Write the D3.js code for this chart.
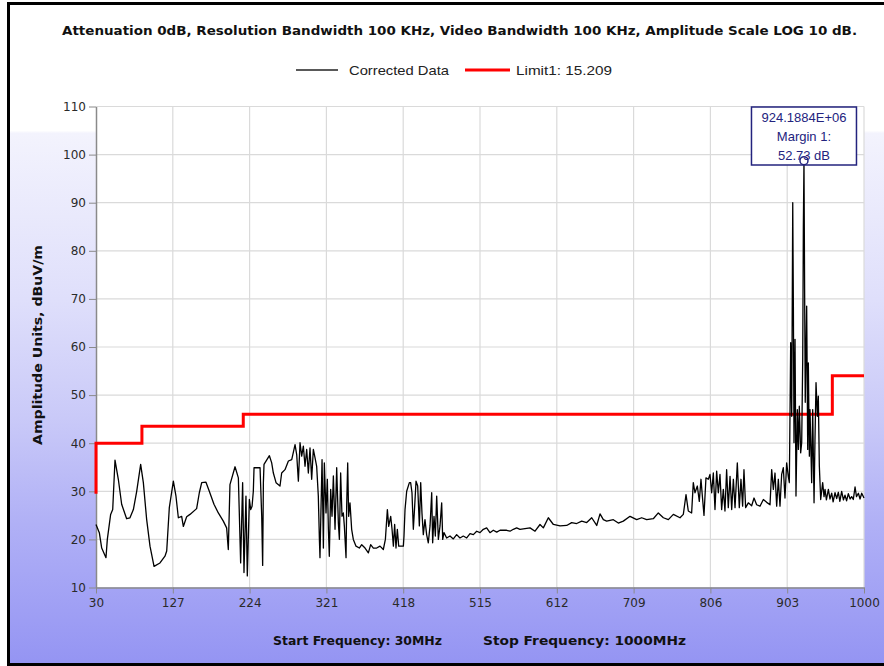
<!DOCTYPE html>
<html>
<head>
<meta charset="utf-8">
<script src="https://cdn.jsdelivr.net/npm/d3@7"></script>
<style>
body { margin: 0; background: #fff; }
</style>
</head>
<body>
<div class="chart"></div>
<script>
// corrected data trace, MHz / dBuV/m
const freqs = [
  30, 34.2, 37.2, 42.6, 44.3, 48.5, 51.1, 54.0, 58.2, 62.4, 68.7, 72.9, 77.2, 81.4, 86.4, 89.8, 94.0, 98.2, 103.3, 110.8,
  117.1, 119.3, 122.6, 127.7, 131.0, 134.0, 138.2, 140.3, 144.5, 148.7, 157.1, 160.5, 163.5, 168.9, 173.1, 179.0, 184.5, 190.8, 195.0, 197.1,
  199.2, 205.6, 209.8, 212.7, 215.2, 216.9, 219.4, 221.1,
  223.7, 225.4, 227.1, 228.7, 229.6, 237.2, 239.3, 240.5, 241.4, 242.2, 249.0, 251.9, 254.0, 257.4, 262.4, 264.5, 268.7, 273.0, 277.2, 281.4,
  283.5, 285.6, 287.7, 289.8, 291.9, 294.0, 296.1, 298.2, 300.3, 302.4, 304.5, 306.6, 308.7, 310.8, 312.1, 312.9, 314.2, 315.5, 317.2, 318.4,
  320.5, 322.2, 323.5, 324.7, 326.4, 328.1, 329.8, 331.9, 334.0, 336.1, 337.4, 339.0, 340.7, 342.4, 343.7, 345.8, 346.6, 347.9, 349.1, 350.8,
  352.9, 355.0, 358.4, 362.6, 365.6, 369.8, 374.0, 376.9, 380.3, 384.5, 388.7, 392.9, 395.5, 398.0, 399.7, 402.2, 403.9, 405.6, 407.2, 408.9,
  410.6, 412.3, 418.2, 419.0, 420.3, 422.4, 425.8,
  427.4, 429.1, 430.8, 432.5, 434.2, 436.3, 438.4, 440.1, 441.7, 443.4, 445.5, 447.6, 449.7, 451.9, 454.0, 455.2, 456.9, 458.6, 460.3, 462.4,
  464.5, 466.6, 467.9, 469.5, 472.9, 477.1, 481.3, 485.5, 489.7, 493.9, 498.2, 502.4, 506.6, 510.8, 515.0, 519.2, 523.4, 527.6, 531.8, 536.1,
  540.3, 544.5, 548.7, 552.9, 557.1, 561.3, 565.5,
  578.2, 584.5, 590.8, 595.0, 601.3, 607.7, 616.1, 624.5, 630.8, 637.1, 643.5, 649.8, 656.1, 662.4, 666.6,
  670.8, 675.0, 683.4, 689.7, 696.0, 704.5, 712.9, 719.2, 725.5, 733.9, 740.2, 746.6, 752.9, 759.2, 767.6, 771.8, 775.2, 778.1, 782.3, 784.4,
  786.5, 789.5, 792.0, 794.1, 796.2, 797.9, 800.4, 803.4, 805.5, 807.6, 809.7, 811.8, 813.9, 816.0, 818.1, 820.2, 822.3, 824.4, 826.5, 828.6,
  830.8, 832.9, 835.0, 837.1, 840.0, 842.5, 844.6, 846.7, 848.4, 850.5, 853.9, 858.1, 861.1, 864.4, 868.6, 872.9, 877.1, 881.3, 883.4, 885.5,
  887.6, 889.7, 891.8, 893.9, 896.0, 898.1, 900.2, 902.3, 904.4,
  905.7, 907.4, 908.7, 910.0, 910.8, 911.6, 912.9, 914.1, 915.8, 917.1, 918.3, 920.0, 921.3, 922.6, 923.4, 924.19, 925.0, 925.8, 927.6, 928.9,
  929.7, 931.0, 931.8, 933.9, 935.2, 936.9, 938.1, 939.4, 941.1, 942.3, 943.6, 945.3, 947.8, 949.5, 950.8, 952.5, 955.0, 957.0, 959.2, 961.0,
  963.4, 965.5, 967.6, 969.5, 971.8, 974.0, 976.0, 978.0, 980.2, 982.5, 984.4, 986.5, 988.7, 990.5, 992.9, 995.0, 997.1, 1000
];
const levels = [
  23.1, 21.4, 18.2, 16.2, 20.0, 25.2, 26.2, 36.5, 32.5, 27.3, 24.3, 24.5, 26.2, 30.0, 35.6, 31.8, 24.1, 18.6, 14.4, 15.1,
  16.5, 17.6, 26.6, 32.1, 29.0, 24.5, 24.8, 22.7, 24.7, 25.2, 26.4, 29.7, 31.8, 31.9, 30.0, 27.3, 25.5, 23.8, 22.4, 17.9,
  31.4, 35.1, 32.8, 15.1, 31.8, 13.1, 29.0, 12.4,
  28.3, 26.2, 26.9, 30.0, 34.9, 34.9, 24.8, 14.6, 31.8, 35.6, 37.4, 35.9, 33.8, 31.8, 31.1, 33.8, 34.5, 36.3, 36.6, 39.7,
  37.6, 32.1, 40.1, 37.3, 39.4, 35.2, 38.7, 33.8, 39.0, 32.5, 38.7, 37.0, 35.2, 29.0, 20.3, 16.2, 26.6, 36.6, 18.2, 35.9,
  25.5, 32.5, 22.1, 16.5, 30.4, 24.8, 33.2, 22.1, 34.9, 23.4, 20.0, 33.8, 24.8, 25.5, 22.7, 16.2, 26.9, 35.9, 24.8, 27.6,
  22.1, 20.0, 18.6, 18.2, 18.9, 18.2, 17.2, 18.9, 18.2, 18.2, 18.6, 17.9, 20.0, 26.2, 22.7, 24.8, 22.1, 18.6, 23.1, 18.2,
  22.1, 18.6, 18.6, 20.7, 26.2, 30.0, 31.8,
  31.8, 29.7, 22.1, 26.9, 32.1, 31.1, 22.8, 31.8, 25.5, 21.0, 24.1, 21.0, 19.3, 22.8, 29.7, 19.3, 24.8, 20.7, 29.0, 20.0,
  22.8, 27.6, 20.0, 21.4, 20.3, 20.7, 20.1, 21.0, 20.3, 20.7, 20.3, 21.2, 21.0, 21.7, 21.4, 22.1, 22.4, 21.4, 21.9, 21.5,
  21.9, 21.9, 21.9, 21.7, 22.1, 22.4, 22.1,
  22.4, 21.7, 23.1, 22.4, 24.5, 23.1, 22.8, 22.9, 23.5, 23.3, 23.8, 23.5, 24.5, 22.9, 25.3,
  24.1, 23.8, 24.1, 23.4, 23.8, 24.8, 24.1, 24.5, 24.1, 24.3, 25.5, 24.5, 24.1, 25.2, 24.5, 25.2, 29.3, 25.9, 25.5, 31.8,
  29.7, 31.1, 27.9, 32.5, 28.3, 25.0, 32.8, 32.5, 33.5, 29.7, 33.8, 26.2, 34.2, 29.7, 33.5, 26.2, 30.4, 25.9, 34.5, 26.6,
  33.1, 26.2, 32.5, 26.6, 35.9, 26.6, 32.5, 26.9, 34.5, 26.6, 27.6, 27.0, 28.6, 27.2, 26.9, 28.3, 27.7, 27.2, 34.5, 30.4,
  33.8, 26.9, 32.5, 26.9, 33.5, 34.9, 28.6, 35.9, 33.1,
  31.8, 60.9, 45.6, 90.0, 68.5, 40.1, 61.6, 29.0, 47.0, 38.7, 47.7, 38.0, 40.1, 57.4, 85.1, 98.73, 72.0, 48.5, 68.5, 38.7,
  56.7, 37.3, 47.0, 31.8, 47.0, 27.6, 40.8, 52.6, 45.6, 49.8, 35.2, 28.3, 31.8, 28.9, 30.4, 28.2, 30.4, 28.4, 29.6, 27.8,
  29.7, 28.5, 29.8, 27.9, 30.0, 28.2, 29.2, 28.0, 29.5, 28.4, 28.9, 28.3, 30.9, 28.9, 29.6, 28.4, 29.6, 28.6
];

// FCC 15.209 limit steps
const limitFreqs = [30, 30, 88, 88, 216, 216, 960, 960, 1000];
const limitLevels = [29.5, 40, 40, 43.5, 43.5, 46, 46, 54, 54];

const xTicks = [30, 127, 224, 321, 418, 515, 612, 709, 806, 903, 1000];
const yTicks = [10, 20, 30, 40, 50, 60, 70, 80, 90, 100, 110];

const peakFreq = 924.1884;
const peakLevel = 98.73;
const peakMargin = 52.73;

const titleText = "Attenuation 0dB, Resolution Bandwidth 100 KHz, Video Bandwidth 100 KHz, Amplitude Scale LOG 10 dB.";
const yLabel = "Amplitude Units, dBuV/m";
const startLabel = "Start Frequency: 30MHz";
const stopLabel = "Stop Frequency: 1000MHz";
const seriesNames = ["Corrected Data", "Limit1: 15.209"];

const w = 884;
const h = 666;
const plot = { left: 96, right: 864, top: 106.5, bottom: 587.5 };
const boldFont = "'DejaVu Sans', Verdana, sans-serif";
const plainFont = "'Liberation Sans', Arial, sans-serif";

let svg = d3.select(".chart").append("svg")
  .attr("width", w)
  .attr("height", h);

let xScale = d3.scaleLinear().domain([30, 1000]).range([plot.left, plot.right]);
let yScale = d3.scaleLinear().domain([10, 110]).range([plot.bottom, plot.top]);

let drawBackground = () => {
  let defs = svg.append("defs");
  let grad = defs.append("linearGradient")
    .attr("id", "panelGrad")
    .attr("gradientUnits", "userSpaceOnUse")
    .attr("x1", 0).attr("y1", 0).attr("x2", 0).attr("y2", h);
  [[0, "#ffffff"], [0.196, "#ffffff"], [0.2, "#f3f3fd"], [0.45, "#dfdffb"],
   [0.63, "#c9c9f8"], [0.78, "#b1b1f6"], [1, "#9494f3"]]
    .forEach(s => grad.append("stop").attr("offset", s[0]).attr("stop-color", s[1]));

  svg.append("rect").attr("width", w).attr("height", h).attr("fill", "#fff");
  svg.append("rect")
    .attr("x", 8.5).attr("y", 3.5)
    .attr("width", w + 10).attr("height", 661)
    .attr("fill", "url(#panelGrad)")
    .attr("stroke", "#000")
    .attr("stroke-width", 3);

  svg.append("rect")
    .attr("x", plot.left).attr("y", plot.top)
    .attr("width", plot.right - plot.left).attr("height", plot.bottom - plot.top)
    .attr("fill", "#fff");
};

let drawGrid = () => {
  let g = svg.append("g").attr("stroke", "#dadada").attr("stroke-width", 1.2);
  g.selectAll(".vgrid").data(xTicks.slice(1)).enter().append("line")
    .attr("x1", d => xScale(d)).attr("x2", d => xScale(d))
    .attr("y1", plot.top).attr("y2", plot.bottom);
  g.selectAll(".hgrid").data(yTicks.slice(1)).enter().append("line")
    .attr("x1", plot.left).attr("x2", plot.right)
    .attr("y1", d => yScale(d)).attr("y2", d => yScale(d));
};

let drawAxes = () => {
  const yAxis = d3.axisLeft(yScale).tickValues(yTicks).tickSize(7).tickSizeOuter(0).tickPadding(3)
    .tickFormat(d3.format("d"));
  let ya = svg.append("g").attr("transform", "translate(" + plot.left + ",0)").call(yAxis);
  const xAxis = d3.axisBottom(xScale).tickValues(xTicks).tickSize(6).tickSizeOuter(0).tickPadding(5)
    .tickFormat(d3.format("d"));
  let xa = svg.append("g").attr("transform", "translate(0," + plot.bottom + ")").call(xAxis);
  [ya, xa].forEach(a => {
    a.select(".domain").attr("stroke", "#8a8a8a").attr("stroke-width", 1.5);
    a.selectAll(".tick line").attr("stroke", "#8a8a8a");
    a.selectAll("text").attr("fill", "#2a2a2a").attr("font-family", boldFont).attr("font-size", 12);
  });
};

let drawSeries = () => {
  let line = d3.line().x(d => xScale(d[0])).y(d => yScale(d[1]));
  svg.append("path")
    .datum(d3.zip(limitFreqs, limitLevels))
    .attr("d", line)
    .attr("fill", "none")
    .attr("stroke", "#ff0000")
    .attr("stroke-width", 3);
  svg.append("path")
    .datum(d3.zip(freqs, levels))
    .attr("d", line)
    .attr("fill", "none")
    .attr("stroke", "#000")
    .attr("stroke-width", 1.3)
    .attr("stroke-linejoin", "round");
};

let drawMarker = () => {
  const px = xScale(peakFreq);
  const navy = "#23237e";
  svg.append("rect")
    .attr("x", px - 52.5).attr("y", yScale(110) + 0.5)
    .attr("width", 105).attr("height", 58)
    .attr("fill", "#fff")
    .attr("stroke", navy).attr("stroke-width", 1.5);
  const lines = [peakFreq.toFixed(4) + "E+06", "Margin 1:", peakMargin.toFixed(2) + " dB"];
  svg.selectAll(".mk").data(lines).enter().append("text")
    .attr("x", px).attr("y", (d, i) => 121.5 + i * 19)
    .attr("text-anchor", "middle")
    .attr("font-family", plainFont).attr("font-size", 13)
    .attr("fill", navy)
    .text(d => d);
  svg.append("circle")
    .attr("cx", px).attr("cy", yScale(peakLevel))
    .attr("r", 4)
    .attr("fill", "none")
    .attr("stroke", navy).attr("stroke-width", 1.5);
};

let drawLabels = () => {
  svg.append("text").text(titleText)
    .attr("x", 62).attr("y", 35)
    .attr("font-family", boldFont).attr("font-weight", "bold").attr("font-size", 12.5)
    .attr("textLength", 795).attr("lengthAdjust", "spacingAndGlyphs")
    .attr("fill", "#111");

  let legend = svg.append("g");
  legend.append("line").attr("x1", 296).attr("x2", 338).attr("y1", 70).attr("y2", 70)
    .attr("stroke", "#222").attr("stroke-width", 1.5);
  legend.append("text").text(seriesNames[0]).attr("x", 349).attr("y", 75)
    .attr("font-family", plainFont).attr("font-size", 13).attr("fill", "#222")
    .attr("textLength", 100).attr("lengthAdjust", "spacingAndGlyphs");
  legend.append("line").attr("x1", 465).attr("x2", 510).attr("y1", 70).attr("y2", 70)
    .attr("stroke", "#ff0000").attr("stroke-width", 3);
  legend.append("text").text(seriesNames[1]).attr("x", 516).attr("y", 75)
    .attr("font-family", plainFont).attr("font-size", 13).attr("fill", "#222")
    .attr("textLength", 96).attr("lengthAdjust", "spacingAndGlyphs");

  svg.append("text").text(yLabel)
    .attr("transform", "translate(42,345) rotate(-90)")
    .attr("text-anchor", "middle")
    .attr("font-family", boldFont).attr("font-weight", "bold").attr("font-size", 12.5)
    .attr("textLength", 200).attr("lengthAdjust", "spacingAndGlyphs")
    .attr("fill", "#111");

  svg.append("text").text(startLabel)
    .attr("x", 273).attr("y", 645)
    .attr("font-family", boldFont).attr("font-weight", "bold").attr("font-size", 12.5)
    .attr("textLength", 169).attr("lengthAdjust", "spacingAndGlyphs")
    .attr("fill", "#111");
  svg.append("text").text(stopLabel)
    .attr("x", 483).attr("y", 645)
    .attr("font-family", boldFont).attr("font-weight", "bold").attr("font-size", 12.5)
    .attr("textLength", 203).attr("lengthAdjust", "spacingAndGlyphs")
    .attr("fill", "#111");
};

drawBackground();
drawGrid();
drawAxes();
drawSeries();
drawMarker();
drawLabels();
</script>
</body>
</html>
